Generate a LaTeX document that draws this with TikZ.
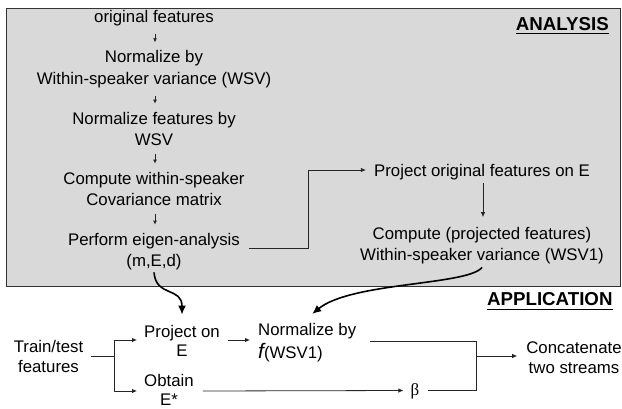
\documentclass[tikz,border=0pt]{standalone}
\usepackage{fontspec}
\setmainfont{Liberation Sans}
\newfontfamily\serifgreek{Liberation Serif}
\usetikzlibrary{arrows.meta,calc}
\begin{document}
\begin{tikzpicture}[x=1pt,y=-1pt,
  txa/.style={font=\fontsize{16.8}{21.7}\selectfont, align=center, inner sep=0pt, anchor=base},
  txb/.style={font=\fontsize{16.8}{19.7}\selectfont, align=center, inner sep=0pt, anchor=base},
  hdr/.style={font=\fontsize{18.7}{20}\selectfont\bfseries, inner sep=0pt, anchor=base east},
  ul/.style={line width=1.6pt},
  ln/.style={line width=0.8pt, draw=black!85},
  arr/.style={ln, -{Latex[length=5pt,width=4.5pt]}},
  sarr/.style={ln, -{Latex[length=4pt,width=4pt]}, shorten <=7.5pt, shorten >=8pt},
  carr/.style={line width=1.6pt, -{Latex[length=9pt,width=8pt]}},
  panel/.style={fill=black!15, draw=black!80, line width=1pt}
]
\useasboundingbox (0,0) rectangle (622,408);
\fill[white] (0,0) rectangle (622,408);
\draw[panel] (6,8) rectangle (620,286);

% analysis (base = baseline of last line)
\node[txa] (a) at (154,22.5) {original features};
\node[txa] (b) at (154,84.4) {Normalize by\\Within-speaker variance (WSV)};
\node[txa] (c) at (154,145.7) {Normalize features by\\WSV};
\node[txa] (d) at (154,205.7) {Compute within-speaker\\Covariance matrix};
\node[txa] (e) at (154,266.7) {Perform eigen-analysis\\(m,E,d)};
\node[txa] (p) at (482,176.7) {Project original features on E};
\node[txa] (q) at (482,260.7) {Compute (projected features)\\Within-speaker variance (WSV1)};
\node[hdr] (an) at (609,30) {ANALYSIS};
\node[hdr] (ap) at (612.7,305) {APPLICATION};
\draw[ul] ([yshift=-3.3pt]an.base west) -- ([yshift=-3.3pt]an.base east);
\draw[ul] ([yshift=-4.5pt]ap.base west) -- ([yshift=-4.5pt]ap.base east);

% application
\node[txb] (t) at (48.5,372.3) {Train/test\\features};
\node[txb, anchor=base west] (pe) at (144,356.7) {Project on\\E};
\node[txb, anchor=base west] (ob) at (144,405.8) {Obtain\\E*};
\node[txb, align=left, anchor=base west] (n) at (258,358.3) {Normalize by\\[3.3pt]{\fontsize{21}{21}\selectfont\itshape f}(WSV1)};
\node[txb] (cc) at (574,373.3) {Concatenate\\two streams};
\node[inner sep=0pt, anchor=base, font=\fontsize{17}{17}\selectfont\serifgreek] (beta) at (415,395) {β};

% connectors
\foreach \u/\v in {a/b,b/c,c/d,d/e}
  \draw[sarr] ([xshift=1pt]\u.south) -- ([xshift=1pt]\u.south |- \v.north);
\draw[arr, shorten <=3pt, shorten >=9.5pt] ([xshift=1pt]p.south) -- ([xshift=1pt]p.south |- q.north);
\draw[arr] ($(e.base east)+(9,-18.7)$) -- ++(59,0) |- ($(p.base west)+(-8,-6.7)$);

\draw[ln] ($(t.base east)+(8,-16.3)$) -- ++(23,0) coordinate (sp);
\draw[arr] (sp) |- ($(pe.base west)+(-7,-16.7)$);
\draw[arr] (sp) |- ($(ob.base west)+(-7,-14.8)$);
\draw[arr] ($(pe.base east)+(8,-16.7)$) -- ($(n.base west)+(-8,-18.3)$);
\draw[ln] ($(n.base west)+(112,-17.3)$) -- ++(106,0) coordinate (mg) |- ($(beta.base east)+(8,-4.5)$);
\draw[arr] ($(ob.base east)+(9,-14.8)$) -- ($(beta.base west)+(-7,-4.5)$);
\draw[arr] ($(mg |- cc.base)+(0,-17.3)$) -- ($(cc.base west)+(-9,-17.3)$);

\draw[carr] ([yshift=-2pt]e.south) .. controls +(2,25) and +(0,-28) .. ([yshift=10pt]pe.north);
\draw[carr] ([yshift=-3pt]q.south) .. controls +(-14,18) and +(39,-32) .. ([xshift=5pt,yshift=9pt]n.north);
\end{tikzpicture}
\end{document}
